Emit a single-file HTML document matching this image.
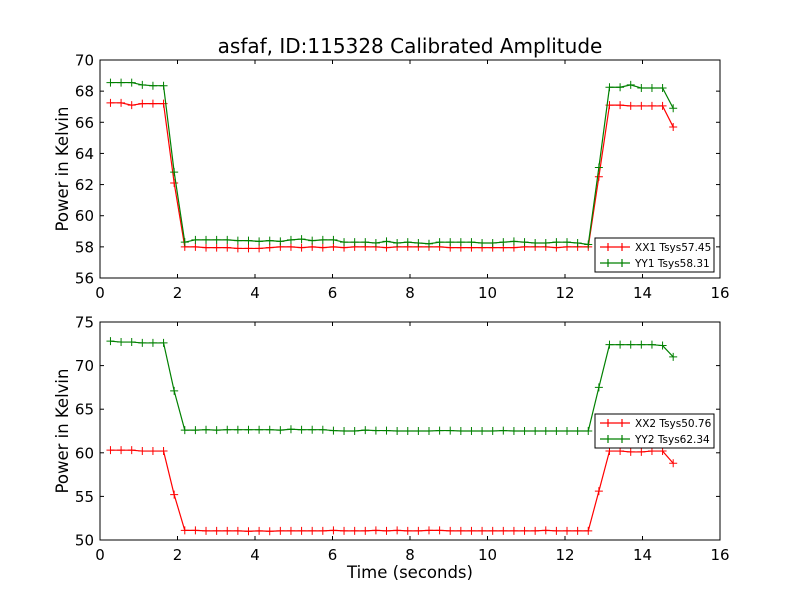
<!DOCTYPE html>
<html><head><meta charset="utf-8"><style>
body{margin:0;background:#fff}
svg{display:block;font-family:"DejaVu Sans","Liberation Sans",sans-serif}
</style></head><body>
<svg id="c" width="800" height="600"></svg>
<script>
const t0 = 0.27, dt = 0.274;
const xx1 = [67.25,67.25,67.1,67.2,67.2,67.2,62.1,58.0,58.0,57.95,57.95,57.95,57.9,57.9,57.9,57.95,58.0,58.0,57.95,58.0,57.95,58.0,57.95,58.0,58.0,58.0,57.95,58.0,58.0,58.0,58.0,58.0,57.95,57.95,57.95,57.95,57.95,57.95,57.95,58.0,58.0,58.0,57.95,58.0,58.0,58.0,62.5,67.1,67.1,67.05,67.05,67.05,67.05,65.7];
const yy1 = [68.55,68.55,68.55,68.4,68.35,68.35,62.8,58.3,58.45,58.45,58.45,58.45,58.4,58.4,58.35,58.4,58.35,58.45,58.5,58.4,58.45,58.45,58.3,58.3,58.3,58.25,58.35,58.25,58.3,58.25,58.2,58.3,58.3,58.3,58.3,58.25,58.25,58.3,58.35,58.3,58.25,58.25,58.3,58.3,58.25,58.15,63.1,68.25,68.25,68.4,68.2,68.2,68.2,66.9];
const xx2 = [60.3,60.3,60.3,60.2,60.2,60.2,55.2,51.1,51.1,51.05,51.05,51.05,51.05,51.0,51.05,51.0,51.05,51.05,51.05,51.05,51.05,51.1,51.05,51.05,51.05,51.1,51.05,51.1,51.05,51.05,51.1,51.1,51.05,51.05,51.05,51.05,51.05,51.05,51.05,51.05,51.05,51.1,51.05,51.05,51.05,51.05,55.6,60.2,60.2,60.1,60.1,60.2,60.2,58.8];
const yy2 = [72.8,72.7,72.7,72.6,72.6,72.6,67.1,62.6,62.6,62.65,62.6,62.65,62.65,62.65,62.65,62.65,62.6,62.7,62.65,62.65,62.65,62.55,62.5,62.5,62.6,62.55,62.55,62.5,62.5,62.5,62.5,62.55,62.55,62.5,62.5,62.5,62.5,62.55,62.5,62.5,62.5,62.5,62.5,62.5,62.5,62.5,67.5,72.4,72.4,72.4,72.4,72.4,72.3,71.0];
const xTicks = [0,2,4,6,8,10,12,14,16];
const yTicks1 = [56,58,60,62,64,66,68,70];
const yTicks2 = [50,55,60,65,70,75];
const NS="http://www.w3.org/2000/svg";
const svg=document.getElementById('c');
function mk(tag,attrs,parent){const e=document.createElementNS(NS,tag);for(const k in attrs)e.setAttribute(k,attrs[k]);(parent||svg).appendChild(e);return e;}
function panel(top,bot,ymin,ymax,yTicks,series,legendY,pname){
  const L=100,R=720;
  const sx=v=>L+(v-0)/16*(R-L);
  const sy=v=>bot-(v-ymin)/(ymax-ymin)*(bot-top);
  const g=mk('g',{});
  
  
  mk('rect',{x:L,y:top,width:R-L,height:bot-top,fill:'#fff',stroke:'#000','stroke-width':1},g);
  xTicks.forEach(v=>{
    const x=sx(v);
    mk('line',{x1:x,x2:x,y1:bot,y2:bot-4,stroke:'#000'},g);
    mk('line',{x1:x,x2:x,y1:top,y2:top+4,stroke:'#000'},g);
    const t=mk('text',{x:x,y:bot+20,'text-anchor':'middle','font-size':15},g);
    
    
    t.textContent=v;
  });
  yTicks.forEach(v=>{
    const y=sy(v);
    mk('line',{x1:L,x2:L+4,y1:y,y2:y,stroke:'#000'},g);
    mk('line',{x1:R,x2:R-4,y1:y,y2:y,stroke:'#000'},g);
    const t=mk('text',{x:L-6,y:y+5.5,'text-anchor':'end','font-size':15},g);
    
    
    t.textContent=v;
  });
  const yl=mk('text',{x:0,y:0,'text-anchor':'middle','font-size':16.5,transform:`translate(68,${(top+bot)/2}) rotate(-90)`},g);
  
  
  yl.textContent='Power in Kelvin';
  series.forEach(s=>{
    const pts=s.data.map((v,i)=>[sx(t0+dt*i),sy(v)]);
    const pl=mk('polyline',{points:pts.map(p=>p.join(',')).join(' '),fill:'none',stroke:s.color,'stroke-width':1.2},g);
    
    
    pts.forEach(p=>{
      mk('path',{d:`M${p[0]-4},${p[1]}h8M${p[0]},${p[1]-4}v8`,stroke:s.color,'stroke-width':1},g);
    });
  });
  const lg=mk('g',{},g);
  
  
  mk('rect',{x:595,y:legendY,width:119,height:34,fill:'#fff',stroke:'#000'},lg);
  series.forEach((s,i)=>{
    const y=legendY+9+i*16;
    mk('path',{d:`M600,${y}h30M608,${y-4}v8M622,${y-4}v8`,stroke:s.color,'stroke-width':1.2},lg);
    const t=mk('text',{x:635,y:y+4,'font-size':10.5},lg);
    
    
    t.textContent=s.label;
  });
}
panel(60,278,56,70,yTicks1,[{data:xx1,color:'#ff0000',name:'xx1',label:'XX1 Tsys57.45'},{data:yy1,color:'#008000',name:'yy1',label:'YY1 Tsys58.31'}],238,'top-panel');
panel(322,540,50,75,yTicks2,[{data:xx2,color:'#ff0000',name:'xx2',label:'XX2 Tsys50.76'},{data:yy2,color:'#008000',name:'yy2',label:'YY2 Tsys62.34'}],414,'bottom-panel');
const title=mk('text',{x:410,y:53,'text-anchor':'middle','font-size':20});


title.textContent='asfaf, ID:115328 Calibrated Amplitude';
const xl=mk('text',{x:410,y:578,'text-anchor':'middle','font-size':16.5});


xl.textContent='Time (seconds)';
</script>
</body></html>
